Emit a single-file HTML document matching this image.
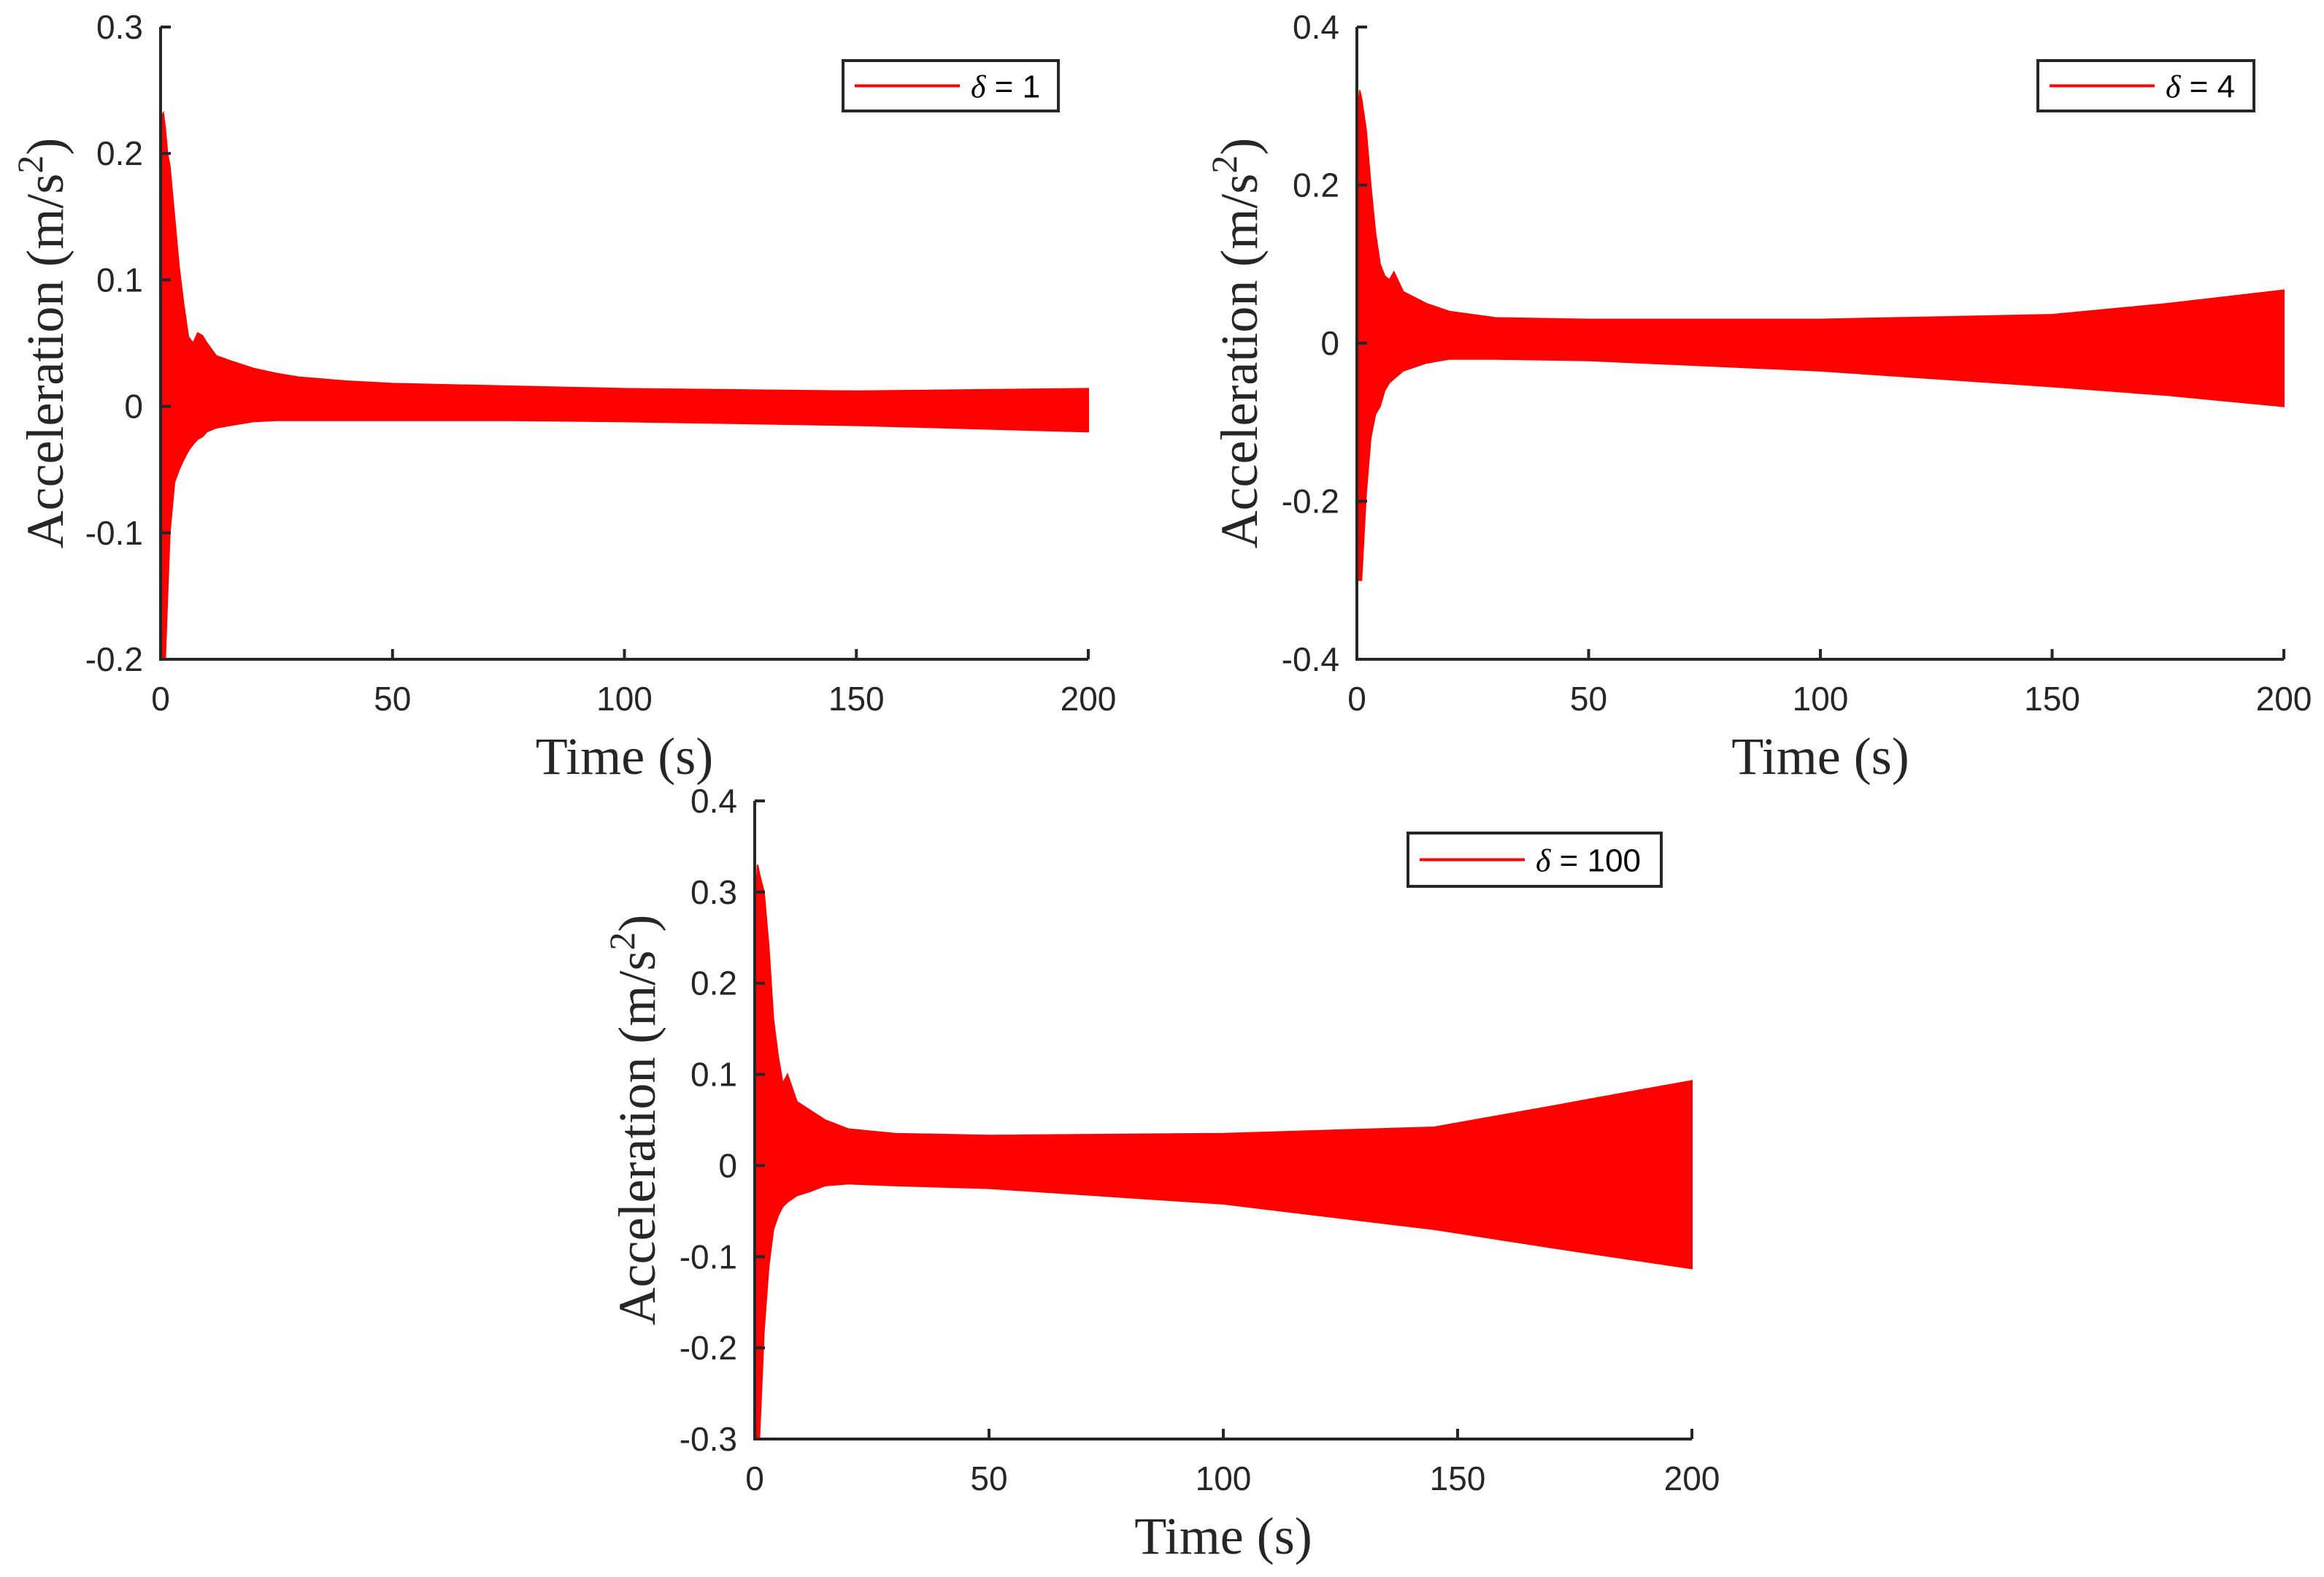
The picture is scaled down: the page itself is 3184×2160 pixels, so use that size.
<!DOCTYPE html>
<html><head><meta charset="utf-8"><style>
html,body{margin:0;padding:0;background:#fff;}
svg{display:block;}
.tick{font-family:"Liberation Sans",Arial,sans-serif;font-size:46px;fill:#262626;}
.lab{font-family:"Liberation Serif","Times New Roman",serif;font-size:72px;fill:#262626;}
.leg{font-family:"Liberation Sans",Arial,sans-serif;font-size:44px;fill:#000;}
</style></head><body>
<svg id="fig" width="3184" height="2160" viewBox="0 0 3184 2160" xmlns="http://www.w3.org/2000/svg"></svg>
<script>
// ---- Data (top level) ----
const p1Times = [0.3,0.6,1,1.5,2,3,4,5,6,7,8,9,10,12,15,20,25,30,40,50,75,100,150,199.5,200];
const p1Upper = [0.23,0.232,0.22,0.2,0.19,0.15,0.11,0.08,0.055,0.05,0.058,0.056,0.05,0.04,0.036,0.03,0.026,0.023,0.02,0.018,0.016,0.014,0.012,0.014,0.014];
const p1Lower = [-0.2,-0.2,-0.2,-0.15,-0.1,-0.06,-0.05,-0.042,-0.035,-0.03,-0.026,-0.024,-0.02,-0.017,-0.015,-0.012,-0.011,-0.011,-0.011,-0.011,-0.011,-0.012,-0.015,-0.02,-0.02];
const p2Times = [0.3,0.6,1,2,3,4,5,6,7,8,10,15,20,30,50,100,150,175,200];
const p2Upper = [0.3,0.32,0.31,0.27,0.2,0.14,0.1,0.085,0.08,0.09,0.065,0.05,0.04,0.032,0.03,0.03,0.036,0.05,0.067];
const p2Lower = [-0.3,-0.3,-0.3,-0.19,-0.12,-0.09,-0.08,-0.06,-0.05,-0.045,-0.035,-0.025,-0.02,-0.02,-0.022,-0.035,-0.055,-0.066,-0.08];
const p3Times = [0.3,0.6,1,2,3,4,5,6,7,9,12,15,20,30,50,100,145,170,200];
const p3Upper = [0.3,0.33,0.32,0.3,0.24,0.16,0.12,0.09,0.1,0.07,0.06,0.05,0.04,0.035,0.033,0.035,0.042,0.065,0.093];
const p3Lower = [-0.3,-0.3,-0.3,-0.18,-0.11,-0.07,-0.055,-0.045,-0.04,-0.033,-0.028,-0.022,-0.02,-0.022,-0.025,-0.042,-0.07,-0.09,-0.113];
const xTicks = [0,50,100,150,200];
const y1Ticks = [-0.2,-0.1,0,0.1,0.2,0.3];
const y2Ticks = [-0.4,-0.2,0,0.2,0.4];
const y3Ticks = [-0.3,-0.2,-0.1,0,0.1,0.2,0.3,0.4];
const legendLabels = ["δ = 1","δ = 4","δ = 100"];

const NS="http://www.w3.org/2000/svg";
const fig=document.getElementById('fig');
function mk(tag,attrs,parent){const e=document.createElementNS(NS,tag);for(const k in attrs)e.setAttribute(k,attrs[k]);(parent||fig).appendChild(e);return e;}

const panels=[
 {L:220,R:1491,T:37,B:903,ymin:-0.2,ymax:0.3,yt:y1Ticks,t:p1Times,u:p1Upper,l:p1Lower,leg:[1155,83,1450,152],legText:legendLabels[0],ylx:62,xly:1036,name:'delta-1'},
 {L:1859,R:3129,T:37,B:903,ymin:-0.4,ymax:0.4,yt:y2Ticks,t:p2Times,u:p2Upper,l:p2Lower,leg:[2792,83,3088,152],legText:legendLabels[1],ylx:1698,xly:1036,name:'delta-4'},
 {L:1034,R:2318,T:1097,B:1971,ymin:-0.3,ymax:0.4,yt:y3Ticks,t:p3Times,u:p3Upper,l:p3Lower,leg:[1929,1141,2276,1214],legText:legendLabels[2],ylx:873,xly:2104,name:'delta-100'}
];

panels.forEach((p)=>{
  const g=mk('g',{});
  
  
  const xs=v=>p.L+(v-0)/(200-0)*(p.R-p.L);
  const ys=v=>p.B-(v-p.ymin)/(p.ymax-p.ymin)*(p.B-p.T);
  let pts=[];
  for(let i=0;i<p.t.length;i++)pts.push(xs(p.t[i]).toFixed(1)+','+ys(p.u[i]).toFixed(1));
  for(let i=p.t.length-1;i>=0;i--)pts.push(xs(p.t[i]).toFixed(1)+','+ys(p.l[i]).toFixed(1));
  const poly=mk('polygon',{points:pts.join(' '),fill:'#ff0000',stroke:'#ff0000','stroke-width':2},g);
  
  
  const ax=mk('path',{d:`M${p.L},${p.T}V${p.B}H${p.R}`,fill:'none',stroke:'#262626','stroke-width':4},g);
  
  
  xTicks.forEach(v=>{
    const x=xs(v);
    mk('line',{x1:x,y1:p.B,x2:x,y2:p.B-14,stroke:'#262626','stroke-width':4},g);
    const t=mk('text',{x:x,y:p.B+70,'text-anchor':'middle',class:'tick'},g);
    t.textContent=v;
    
    
  });
  p.yt.forEach(v=>{
    const y=ys(v);
    mk('line',{x1:p.L,y1:y,x2:p.L+14,y2:y,stroke:'#262626','stroke-width':4},g);
    const t=mk('text',{x:p.L-24,y:y+16,'text-anchor':'end',class:'tick'},g);
    t.textContent=(Math.abs(v)<1e-9)?'0':String(v);
    
    
  });
  const xl=mk('text',{x:(p.L+p.R)/2,y:p.xly+24,'text-anchor':'middle',class:'lab'},g);
  xl.textContent='Time (s)';
  
  
  const yc=(p.T+p.B)/2;
  const yl=mk('text',{x:p.ylx+24,y:yc,'text-anchor':'middle',class:'lab',transform:`rotate(-90 ${p.ylx+24} ${yc})`},g);
  yl.innerHTML='Acceleration (m/s<tspan dy="-28" font-size="50">2</tspan><tspan dy="28">)</tspan>';
  
  
  const [lx1,ly1,lx2,ly2]=p.leg;
  const lg=mk('g',{},g);
  
  
  mk('rect',{x:lx1,y:ly1,width:lx2-lx1,height:ly2-ly1,fill:'#fff',stroke:'#262626','stroke-width':4},lg);
  const my=(ly1+ly2)/2;
  mk('line',{x1:lx1+16,y1:my,x2:lx1+160,y2:my,stroke:'#ff0000','stroke-width':4},lg);
  const lt=mk('text',{x:lx1+175,y:my+16,class:'leg'},lg);
  lt.innerHTML='<tspan font-style="italic" font-family="Liberation Serif, serif">δ</tspan>'+p.legText.slice(1);
  
  
});
</script>
</body></html>
